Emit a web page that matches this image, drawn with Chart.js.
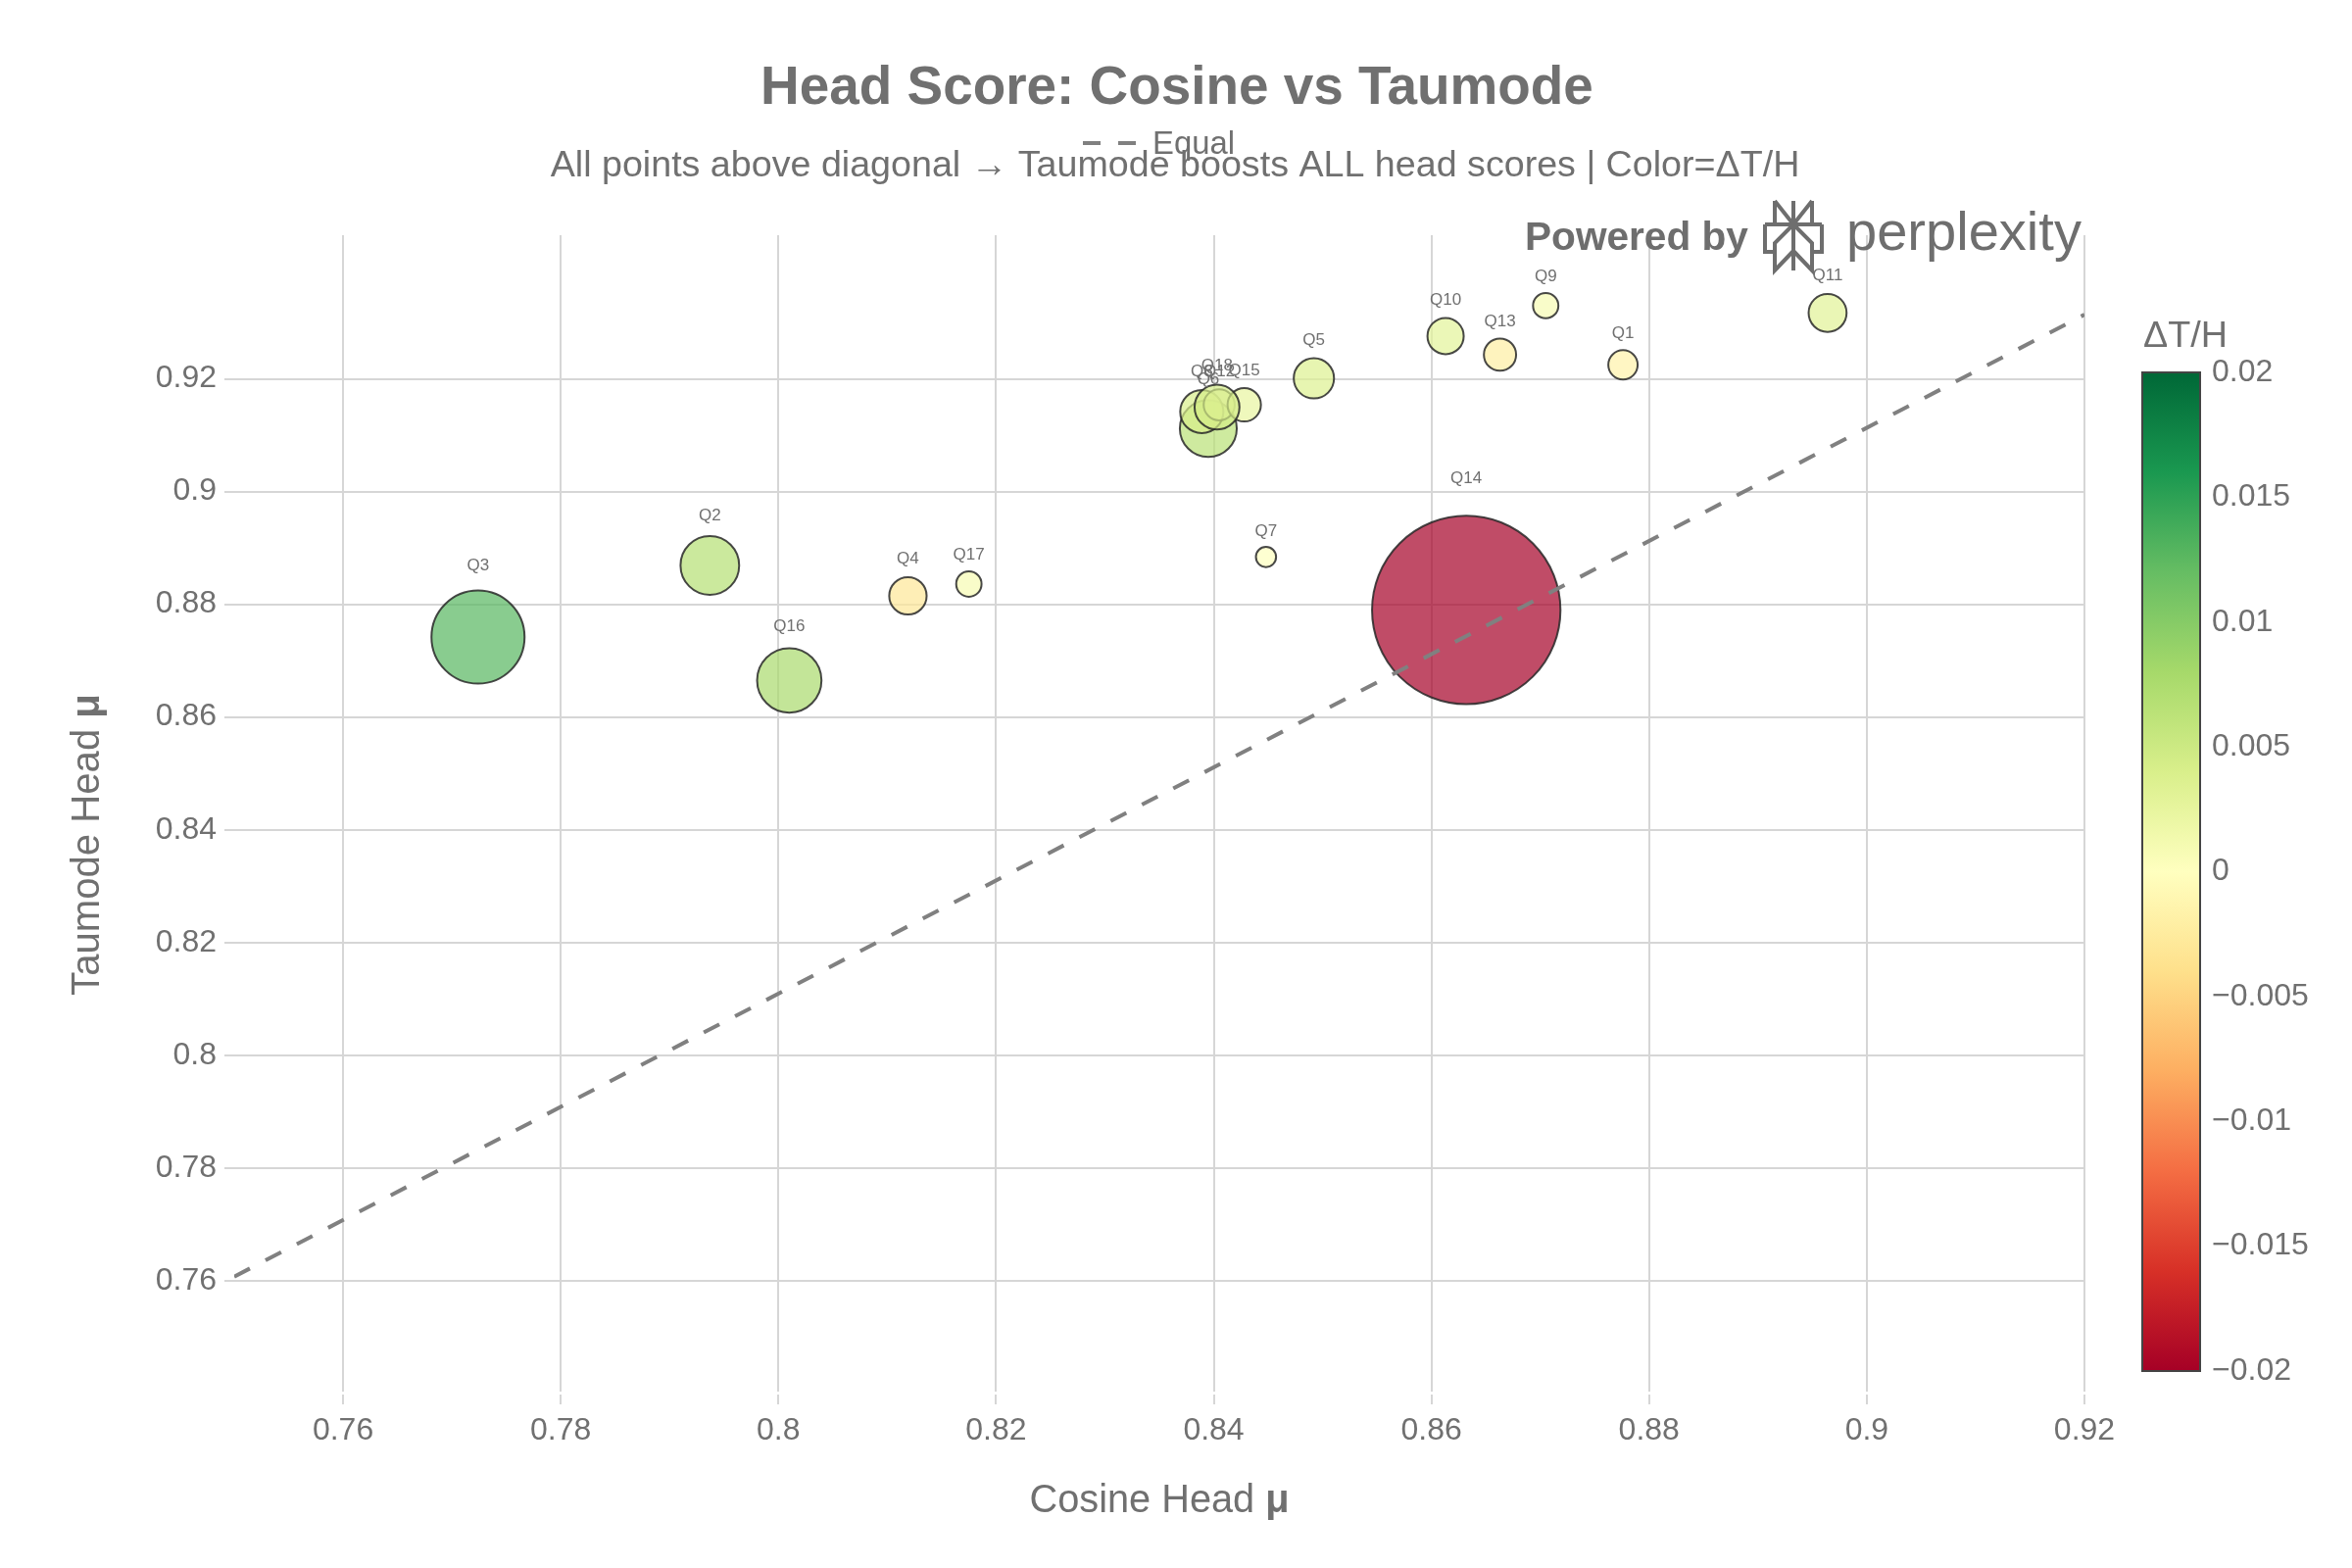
<!DOCTYPE html>
<html>
<head>
<meta charset="utf-8">
<script src="https://cdn.jsdelivr.net/npm/chart.js@4.4.1/dist/chart.umd.min.js"></script>
<style>
html,body{margin:0;padding:0;background:#ffffff;}
#wrap{width:2400px;height:1600px;position:relative;}
</style>
</head>
<body>
<div id="wrap"><canvas id="c" width="2400" height="1600"></canvas></div>
<script>
// ---------------- DATA ----------------
const queries     = ['Q1','Q2','Q3','Q4','Q5','Q6','Q7','Q8','Q9','Q10','Q11','Q12','Q13','Q14','Q15','Q16','Q17','Q18'];
const cosineHead  = [0.8776,0.7937,0.7724,0.8119,0.8492,0.8395,0.8448,0.8389,0.8705,0.8613,0.8964,0.8405,0.8663,0.8632,0.8428,0.8010,0.8175,0.8403];
const taumodeHead = [0.9225,0.8869,0.8742,0.8815,0.9201,0.9112,0.8884,0.9142,0.9330,0.9276,0.9317,0.9154,0.9243,0.8790,0.9154,0.8665,0.8836,0.9150];
const deltaTH     = [-0.0017,0.0068,0.0128,-0.0031,0.0036,0.0065,0.0001,0.0041,0.0010,0.0029,0.0032,0.0020,-0.0022,-0.0294,0.0024,0.0078,0.0010,0.0044];
const equalLineX  = [0.75, 0.92];
const equalLineY  = [0.7607, 0.9314];
const xTicks      = [0.76,0.78,0.80,0.82,0.84,0.86,0.88,0.90,0.92];
const yTicks      = [0.76,0.78,0.80,0.82,0.84,0.86,0.88,0.90,0.92];
const colorbarTicks = [0.02,0.015,0.01,0.005,0,-0.005,-0.01,-0.015,-0.02];

// ---------------- STYLE ----------------
const FAM = '"Liberation Sans", Arial, sans-serif';
const TXT = '#707070';
const GRID = '#d6d6d6';
const CMIN = -0.02, CMAX = 0.02;
const RdYlGn = [[0,[165,0,38]],[0.1,[215,48,39]],[0.2,[244,109,67]],[0.3,[253,174,97]],[0.4,[254,224,139]],
  [0.5,[255,255,191]],[0.6,[217,239,139]],[0.7,[166,217,106]],[0.8,[102,189,99]],[0.9,[26,152,80]],[1,[0,104,55]]];

function colorAt(t){
  t = Math.max(0, Math.min(1, t));
  for (let i=1;i<RdYlGn.length;i++){
    if (t <= RdYlGn[i][0]){
      const [t0,c0] = RdYlGn[i-1], [t1,c1] = RdYlGn[i];
      const f = (t-t0)/(t1-t0);
      return c0.map((v,k)=>Math.round(v+(c1[k]-v)*f));
    }
  }
  return RdYlGn[RdYlGn.length-1][1];
}
function colorFor(d, a){
  const c = colorAt((d-CMIN)/(CMAX-CMIN));
  return `rgba(${c[0]},${c[1]},${c[2]},${a})`;
}
function radiusFor(d){ return (20 + Math.abs(d)*5860)/2; }
function fmtTick(v){ return String(parseFloat(v.toFixed(3))); }
function fmtCb(v){ if (Math.abs(v)<1e-12) return '0'; const s = String(parseFloat(Math.abs(v).toFixed(3))); return v<0 ? '\u2212'+s : s; }

function fitSize(ctx, parts, target, base){
  base = base || 40;
  let w = 0;
  parts.forEach(p=>{ ctx.font = `${p.w} ${base}px ${FAM}`; w += ctx.measureText(p.t).width; });
  return base*target/w;
}
function drawParts(ctx, parts, size, x, y, align){
  let total = 0;
  const ws = parts.map(p=>{ ctx.font = `${p.w} ${size}px ${FAM}`; const m = ctx.measureText(p.t).width; total += m; return m; });
  let cx = align==='center' ? x - total/2 : x;
  ctx.textAlign = 'left';
  parts.forEach((p,i)=>{ ctx.font = `${p.w} ${size}px ${FAM}`; ctx.fillText(p.t, cx, y); cx += ws[i]; });
}

const decor = {
  id:'decor',
  beforeDraw(chart){
    const c = chart.ctx; c.save(); c.fillStyle='#ffffff'; c.fillRect(0,0,chart.width,chart.height); c.restore();
  },
  afterDatasetsDraw(chart){
    const c = chart.ctx;
    const meta = chart.getDatasetMeta(1);
    c.save();
    c.fillStyle = TXT; c.textAlign='center'; c.textBaseline='middle';
    c.font = `normal 17px ${FAM}`;
    meta.data.forEach((el,i)=>{
      const r = radiusFor(deltaTH[i]);
      c.fillText(queries[i], el.x, el.y - (1.256*r + 13.4));
    });
    c.restore();
  },
  afterDraw(chart){
    const c = chart.ctx;
    c.save();
    c.fillStyle = TXT;
    c.textBaseline = 'middle';
    // Title
    const tParts=[{t:'Head Score: Cosine vs Taumode', w:'bold'}];
    drawParts(c, tParts, fitSize(c,tParts,850), 1201, 91, 'center');
    // Subtitle
    const sParts=[{t:'All points above diagonal \u2192 Taumode boosts ALL head scores | Color=\u0394T/H', w:'normal'}];
    drawParts(c, sParts, fitSize(c,sParts,1275), 1199, 170, 'center');
    // Legend
    c.strokeStyle='#808080'; c.lineWidth=4; c.setLineDash([18,18]);
    c.beginPath(); c.moveTo(1105,146); c.lineTo(1159,146); c.stroke(); c.setLineDash([]);
    const lParts=[{t:'Equal', w:'normal'}];
    drawParts(c, lParts, fitSize(c,lParts,84), 1176, 148, 'left');
    // Axis titles
    const xParts=[{t:'Cosine Head ', w:'normal'},{t:'\u03bc', w:'bold'}];
    drawParts(c, xParts, fitSize(c,xParts,265), 1183, 1532, 'center');
    const yParts=[{t:'Taumode Head ', w:'normal'},{t:'\u03bc', w:'bold'}];
    c.save(); c.translate(90, 862); c.rotate(-Math.PI/2);
    drawParts(c, yParts, fitSize(c,yParts,308), 0, 0, 'center');
    c.restore();
    // Colorbar
    const cb = {x:2186, y:380, w:59, h:1019};
    const g = c.createLinearGradient(0, cb.y+cb.h, 0, cb.y);
    RdYlGn.forEach(([t,col])=>g.addColorStop(t, `rgb(${col[0]},${col[1]},${col[2]})`));
    c.fillStyle = g; c.fillRect(cb.x, cb.y, cb.w, cb.h);
    c.strokeStyle = '#444444'; c.lineWidth = 2; c.strokeRect(cb.x, cb.y, cb.w, cb.h);
    c.fillStyle = TXT; c.textAlign='left'; c.textBaseline='middle';
    c.font = `normal 32px ${FAM}`;
    colorbarTicks.forEach(v=>{
      const yy = cb.y + (CMAX - v)/(CMAX-CMIN)*cb.h;
      c.fillText(fmtCb(v), 2257, yy);
    });
    const cbParts=[{t:'\u0394T/H', w:'normal'}];
    drawParts(c, cbParts, fitSize(c,cbParts,86), 2187, 344, 'left');
    // Watermark
    c.fillStyle = '#6e6e6e'; c.textBaseline='alphabetic';
    const pParts=[{t:'Powered by', w:'bold'}];
    drawParts(c, pParts, fitSize(c,pParts,228), 1556, 255, 'left');
    const wParts=[{t:'perplexity', w:'normal'}];
    drawParts(c, wParts, fitSize(c,wParts,240), 1884, 255, 'left');
    // logo
    c.strokeStyle = '#6e6e6e'; c.lineWidth = 4; c.lineJoin='miter'; c.lineCap='butt';
    const L=1801, R=1859, X=1830, IL=1811, IR=1849, T=205, B1=229, B2=257, BOT=276;
    c.beginPath();
    c.moveTo(X,T); c.lineTo(X,BOT);
    c.moveTo(IL,T); c.lineTo(IL,B1); c.moveTo(IL,T); c.lineTo(X,B1);
    c.moveTo(IR,T); c.lineTo(IR,B1); c.moveTo(IR,T); c.lineTo(X,B1);
    c.moveTo(L,B1); c.lineTo(R,B1);
    c.moveTo(L,B1); c.lineTo(L,B2); c.lineTo(IL,B2);
    c.moveTo(R,B1); c.lineTo(R,B2); c.lineTo(IR,B2);
    c.moveTo(X,B1); c.lineTo(IL,248); c.lineTo(IL,BOT); c.lineTo(X,256);
    c.moveTo(X,B1); c.lineTo(IR,248); c.lineTo(IR,BOT); c.lineTo(X,256);
    c.stroke();
    c.restore();
  }
};

const tickFont = {family: FAM, size: 32};
const ctx = document.getElementById('c').getContext('2d');
new Chart(ctx, {
  type: 'bubble',
  data: {
    datasets: [
      {
        type: 'line', label: 'Equal',
        data: equalLineX.map((x,i)=>({x, y: equalLineY[i]})),
        borderColor: '#808080', borderWidth: 4, borderDash: [18,18],
        pointRadius: 0, fill: false, tension: 0, order: 0
      },
      {
        type: 'bubble', label: 'Queries',
        data: cosineHead.map((x,i)=>({x, y: taumodeHead[i], r: radiusFor(deltaTH[i])})),
        backgroundColor: deltaTH.map(d=>colorFor(d, 0.7)),
        borderColor: 'rgba(40,40,40,0.85)', borderWidth: 2,
        hoverRadius: 0, hoverBorderWidth: 2, order: 1
      }
    ]
  },
  options: {
    responsive: false, animation: false, devicePixelRatio: 1,
    events: [],
    layout: {padding: {left: 0, right: 273, top: 240, bottom: 0}},
    plugins: {legend: {display: false}, tooltip: {enabled: false}, title: {display: false}},
    scales: {
      x: {
        type: 'linear', position: 'bottom', min: 0.75, max: 0.92,
        afterFit(s){ s.height = 180; },
        afterBuildTicks(s){ s.ticks = xTicks.map(v=>({value: v})); },
        ticks: {callback: v=>fmtTick(v), font: tickFont, color: TXT, padding: 8, maxRotation: 0, autoSkip: false},
        grid: {color: GRID, lineWidth: 2, tickLength: 13, tickColor: GRID, tickBorderDash: [0.01,3,10,200]},
        border: {display: false}
      },
      y: {
        type: 'linear', position: 'left', min: 0.7403, max: 0.9455,
        afterFit(s){ s.width = 239; },
        afterBuildTicks(s){ s.ticks = yTicks.map(v=>({value: v})); },
        ticks: {callback: v=>fmtTick(v), font: tickFont, color: TXT, padding: 5, autoSkip: false},
        grid: {color: GRID, lineWidth: 2, tickLength: 13, tickColor: GRID, tickBorderDash: [0.01,3,10,200]},
        border: {display: false}
      }
    }
  },
  plugins: [decor]
});
</script>
</body>
</html>
